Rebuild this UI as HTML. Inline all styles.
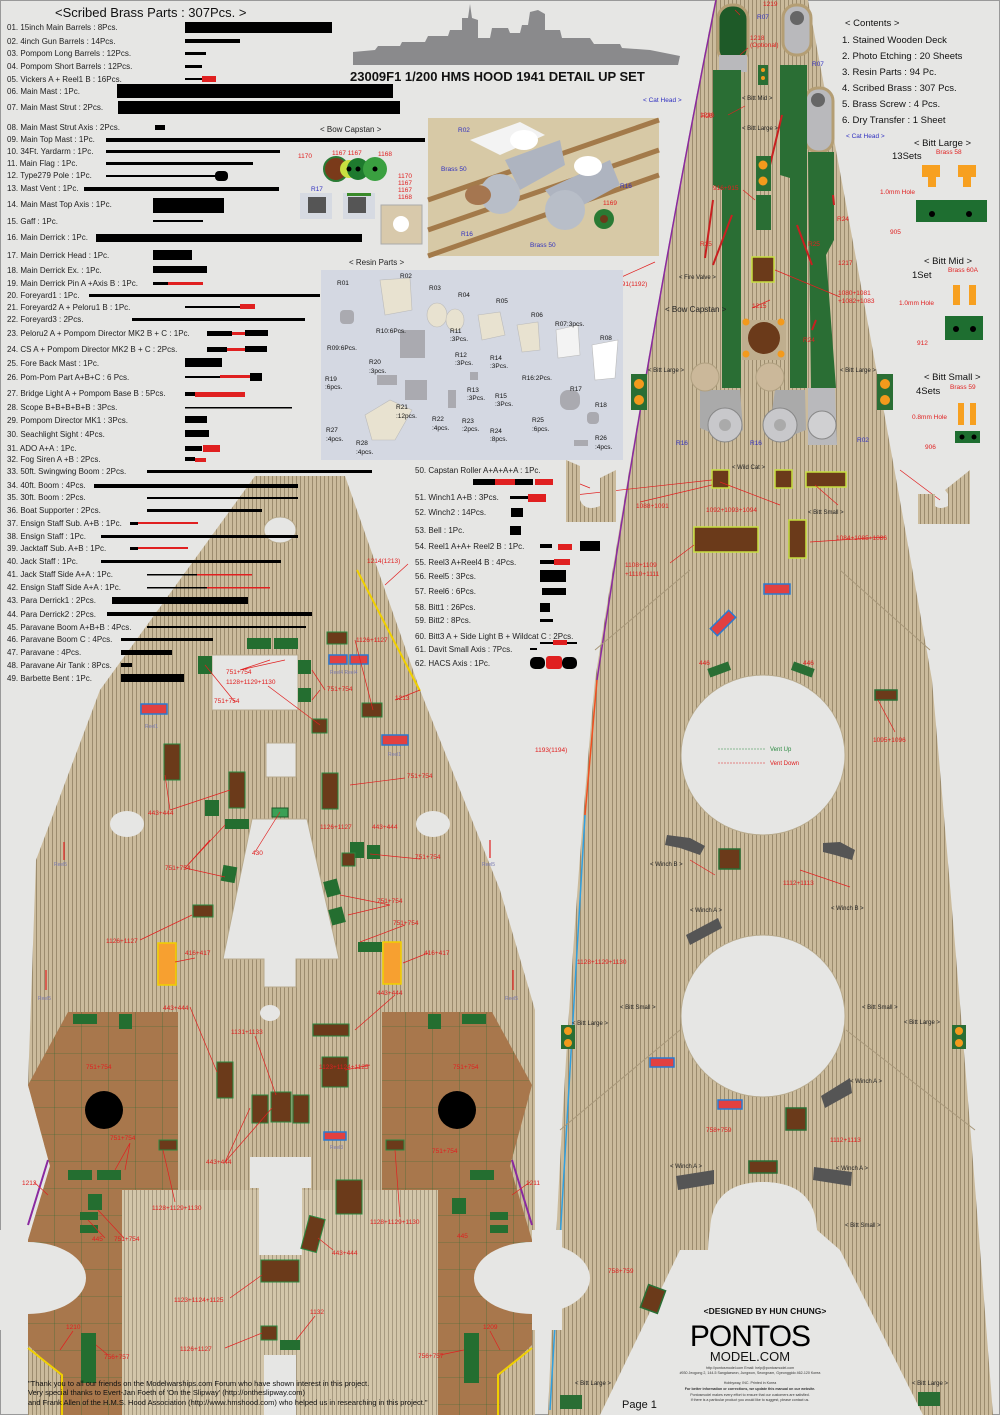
<!DOCTYPE html>
<html><head><meta charset="utf-8">
<style>
html,body{margin:0;padding:0;background:#e6e6e4;}
svg{display:block;font-family:"Liberation Sans",sans-serif;}
.t{font-size:8px;fill:#222;}
.r{font-size:6.5px;fill:#e02020;}
.b{font-size:6.5px;fill:#3030c0;}
.k{font-size:6px;fill:#222;}
</style></head><body>
<svg width="1000" height="1415" viewBox="0 0 1000 1415" xmlns="http://www.w3.org/2000/svg">
<defs>
<pattern id="wood" width="4" height="10" patternUnits="userSpaceOnUse">
<rect width="4" height="10" fill="#cbbb9c"/><rect width="1" height="10" fill="#9c8c6e"/>
</pattern>
<pattern id="wood2" width="4" height="10" patternUnits="userSpaceOnUse">
<rect width="4" height="10" fill="#d3c6aa"/><rect width="1" height="10" fill="#a79a80"/>
</pattern>
<pattern id="grid" width="27" height="27" patternUnits="userSpaceOnUse">
<rect width="27" height="27" fill="#a8774c"/><path d="M0 0H27M0 0V27" stroke="#2f6a35" stroke-width="0.6"/>
</pattern>
</defs>
<rect width="1000" height="1415" fill="#e6e6e4"/>
<rect x="0.5" y="0.5" width="999" height="1414" fill="none" stroke="#999"/>

<!-- ================= RIGHT DECK ================= -->
<path d="M715 0 L808 0 Q870 330 932 680 Q965 1050 993 1415 L548 1415 Q565 1000 595 680 Q650 330 715 0Z" fill="url(#wood)"/>
<path d="M716 0 Q650 330 597 680" stroke="#8a2aa0" stroke-width="1.5" fill="none"/>
<path d="M597 680 L585 815" stroke="#f05020" stroke-width="1.5"/>
<path d="M585 815 L550 1410" stroke="#30a0e0" stroke-width="1.5"/>
<ellipse cx="763" cy="755" rx="82" ry="80" fill="#e6e6e4" stroke="#b8aa8c"/>
<ellipse cx="763" cy="1016" rx="82" ry="81" fill="#e6e6e4" stroke="#b8aa8c"/>
<path d="M710 1250 L710 1230 Q712 1182 763 1182 Q815 1182 817 1230 L840 1250 L923 1415 L600 1415 L680 1250Z" fill="#e6e6e4"/>
<path d="M708 1250 Q710 1182 763 1182 Q817 1182 819 1250" fill="#e6e6e4"/>
<path d="M690 570 L595 650 M840 570 L930 650 M680 1030 L560 1130 M846 1030 L975 1130" stroke="#a8987a" stroke-width="1"/>
<rect x="718" y="5" width="30" height="58" rx="14" fill="#1e5a28" stroke="#b49e74" stroke-width="3"/>
<rect x="783" y="5" width="28" height="50" rx="13" fill="#b9b9bc" stroke="#b49e74" stroke-width="3"/>
<circle cx="797" cy="18" r="7" fill="#666"/>
<rect x="805" y="88" width="28" height="64" rx="13" fill="#b9b9bc" stroke="#b49e74" stroke-width="3"/>
<circle cx="818" cy="100" r="7" fill="#666"/>
<rect x="719" y="55" width="28" height="17" fill="#b9b9bc"/>
<path d="M713 70 L741 70 L741 388 L722 388 L722 190 L713 185Z" fill="#2a6e34"/>
<path d="M780 65 L807 65 L807 388 L790 388 L790 178 L780 175Z" fill="#2a6e34"/>
<path d="M808 152 L834 152 L834 240 L826 255 L836 388 L811 388Z" fill="#2a6e34"/>
<path d="M713 200 L705 258 M782 115 L770 165 M732 215 L713 265 M797 225 L812 265 M833 195 L834 205 M816 320 L812 330" stroke="#c82020" stroke-width="2"/>
<path d="M700 390 L740 390 L743 430 L728 440 L700 428Z" fill="#aaa"/>
<path d="M775 390 L805 390 L806 430 L780 440 L770 425Z" fill="#aaa"/>
<path d="M808 388 L835 388 L837 445 L808 445Z" fill="#b9b9bc"/>
<circle cx="725" cy="425" r="17" fill="#c8c8cb" stroke="#888"/><circle cx="725" cy="425" r="6" fill="#aaa"/>
<circle cx="780" cy="425" r="17" fill="#c8c8cb" stroke="#888"/><circle cx="780" cy="425" r="6" fill="#aaa"/>
<circle cx="822" cy="425" r="14" fill="#d0d0d2" stroke="#888"/>
<circle cx="705" cy="377" r="14" fill="#cbb89a" stroke="#b0a080"/>
<circle cx="770" cy="377" r="14" fill="#cbb89a" stroke="#b0a080"/>
<rect x="758" y="65" width="10" height="20" fill="#2a6e34"/><circle cx="763" cy="70" r="2" fill="#f39a1c"/><circle cx="763" cy="78" r="2" fill="#f39a1c"/>
<rect x="756" y="156" width="15" height="35" fill="#2a6e34"/><circle cx="763" cy="165" r="4.5" fill="#f39a1c"/><circle cx="763" cy="181" r="4.5" fill="#f39a1c"/>
<rect x="756" y="195" width="15" height="35" fill="#2a6e34"/>
<rect x="752" y="257" width="22" height="25" fill="#6b3a1a" stroke="#c8e040" stroke-width="1.5"/>
<rect x="742" y="320" width="44" height="40" fill="#bfae8e"/>
<circle cx="764" cy="338" r="16" fill="#6b3a1a"/>
<circle cx="746" cy="322" r="3.5" fill="#f39a1c"/><circle cx="781" cy="322" r="3.5" fill="#f39a1c"/><circle cx="746" cy="354" r="3.5" fill="#f39a1c"/><circle cx="781" cy="354" r="3.5" fill="#f39a1c"/>
<rect x="631" y="374" width="16" height="36" fill="#2a6e34"/><circle cx="639" cy="384" r="5" fill="#f39a1c"/><circle cx="639" cy="400" r="5" fill="#f39a1c"/>
<rect x="877" y="374" width="16" height="36" fill="#2a6e34"/><circle cx="885" cy="384" r="5" fill="#f39a1c"/><circle cx="885" cy="400" r="5" fill="#f39a1c"/>
<g fill="#6b3a1a" stroke="#c8e040" stroke-width="1.5">
<rect x="712" y="470" width="17" height="18"/><rect x="775" y="470" width="17" height="18"/><rect x="806" y="472" width="40" height="15"/>
<rect x="694" y="527" width="64" height="25"/><rect x="789" y="520" width="17" height="38"/>
</g>
<g fill="#6b3a1a" stroke="#2a6e34" stroke-width="1.5">
<rect x="719" y="849" width="21" height="20"/><rect x="786" y="1108" width="20" height="22"/><rect x="749" y="1161" width="28" height="12"/>
<rect x="875" y="690" width="22" height="10"/><rect x="644" y="1287" width="18" height="24" transform="rotate(20 653 1299)"/>
</g>
<g fill="#555"><path d="M667 835 L690 838 L705 846 L700 855 L680 848 L665 845Z"/><path d="M823 843 L840 842 L855 850 L852 860 L835 855 L823 852Z"/>
<path d="M686 935 L718 918 L722 928 L690 945Z"/><path d="M821 1096 L850 1078 L852 1093 L825 1108Z"/><path d="M676 1176 L714 1170 L714 1184 L678 1190Z"/><path d="M814 1167 L852 1172 L851 1186 L813 1180Z"/></g>
<g fill="#2a6e34"><rect x="708" y="665" width="22" height="9" transform="rotate(-20 719 669)"/><rect x="792" y="665" width="22" height="9" transform="rotate(20 803 669)"/>
<rect x="561" y="1025" width="14" height="24"/><rect x="952" y="1025" width="14" height="24"/><rect x="560" y="1395" width="22" height="14"/><rect x="918" y="1392" width="22" height="14"/></g>
<g fill="#f39a1c"><circle cx="568" cy="1031" r="4"/><circle cx="568" cy="1043" r="4"/><circle cx="959" cy="1031" r="4"/><circle cx="959" cy="1043" r="4"/></g>
<g fill="#e24040" stroke="#2a7ad0" stroke-width="1.5"><rect x="764" y="584" width="26" height="10"/><rect x="710" y="618" width="26" height="10" transform="rotate(-45 723 623)"/><rect x="650" y="1058" width="24" height="9"/><rect x="718" y="1100" width="24" height="9"/></g>
<g class="r"><text x="763" y="6">1219</text><text x="750" y="40">1218</text><text x="750" y="47">(Optional)</text><text x="700" y="117">1216</text><text x="713" y="190">916+915</text><text x="700" y="246">R25</text><text x="808" y="246">R25</text><text x="837" y="221">R24</text><text x="838" y="265">1217</text><text x="838" y="295">1080+1081</text><text x="838" y="303">+1082+1083</text><text x="752" y="308">1215</text><text x="803" y="342">R24</text>
<text x="615" y="286">1191(1192)</text><text x="636" y="508">1088+1091</text><text x="706" y="512">1092+1093+1094</text><text x="836" y="540">1084+1085+1086</text><text x="625" y="567">1108+1109</text><text x="625" y="576">+1110+1111</text><text x="873" y="742">1095+1096</text><text x="535" y="752">1193(1194)</text><text x="783" y="885">1112+1113</text><text x="577" y="964">1128+1129+1130</text><text x="706" y="1132">758+759</text><text x="830" y="1142">1112+1113</text><text x="608" y="1273">758+759</text><text x="493" y="1276">1195(1196)</text>
<text x="701" y="118">R25</text><text x="699" y="665">446</text><text x="803" y="665">446</text></g>
<g class="b"><text x="757" y="19">R07</text><text x="812" y="66">R07</text><text x="643" y="102">&lt; Cat Head &gt;</text><text x="846" y="138">&lt; Cat Head &gt;</text><text x="676" y="445">R16</text><text x="750" y="445">R16</text><text x="857" y="442">R02</text></g>
<g class="k"><text x="742" y="100">&lt; Bitt Mid &gt;</text><text x="742" y="130">&lt; Bitt Large &gt;</text><text x="679" y="279">&lt; Fire Valve &gt;</text><text x="648" y="372">&lt; Bitt Large &gt;</text><text x="840" y="372">&lt; Bitt Large &gt;</text><text x="732" y="469">&lt; Wild Cat &gt;</text><text x="808" y="514">&lt; Bitt Small &gt;</text>
<text x="650" y="866">&lt; Winch B &gt;</text><text x="690" y="912">&lt; Winch A &gt;</text><text x="831" y="910">&lt; Winch B &gt;</text><text x="620" y="1009">&lt; Bitt Small &gt;</text><text x="862" y="1009">&lt; Bitt Small &gt;</text><text x="572" y="1025">&lt; Bitt Large &gt;</text><text x="904" y="1024">&lt; Bitt Large &gt;</text><text x="850" y="1083">&lt; Winch A &gt;</text><text x="670" y="1168">&lt; Winch A &gt;</text><text x="836" y="1170">&lt; Winch A &gt;</text><text x="845" y="1227">&lt; Bitt Small &gt;</text><text x="575" y="1385">&lt; Bitt Large &gt;</text><text x="912" y="1385">&lt; Bitt Large &gt;</text></g>
<text x="665" y="312" font-size="8" fill="#222">&lt; Bow Capstan &gt;</text>
<text x="770" y="751" font-size="6" fill="#2a8a40">Vent Up</text><text x="770" y="765" font-size="6" fill="#e02020">Vent Down</text>
<path d="M718 749H765" stroke="#2a8a40" stroke-dasharray="2 1" stroke-width=".6"/><path d="M718 763H765" stroke="#e02020" stroke-dasharray="2 1" stroke-width=".6"/>
<g stroke="#e02020" stroke-width=".7" fill="none"><path d="M735 10L740 15M748 48L740 55M728 115L745 106M743 190L755 200M840 297L775 270M615 280L655 262M770 300L752 308M575 495L712 480M640 502L712 485M780 505L720 482M885 537L810 542M670 563L694 545M620 370L590 395M838 505L815 485M895 732L878 700M715 875L690 860M850 887L800 870M900 470L940 500M590 488L570 480"/></g>
<text x="765" y="1314" text-anchor="middle" font-size="8.5" font-weight="bold" fill="#111">&lt;DESIGNED BY HUN CHUNG&gt;</text>
<text x="750" y="1346" text-anchor="middle" font-size="30" fill="#000" letter-spacing="-1">PONTOS</text>
<text x="750" y="1361" text-anchor="middle" font-size="13" fill="#111">MODEL.COM</text>
<g font-size="3.6" fill="#333" text-anchor="middle"><text x="750" y="1369">http://pontosmodel.com  Email: help@pontosmodel.com</text><text x="750" y="1374">#930 Jeogong 2, 144-5 Sangdaewon, Jungwon, Seongnam, Gyeonggido 462-120 Korea</text><text x="750" y="1384">Hobbyway, INC.  Printed in Korea</text><text x="750" y="1390" font-weight="bold">For better information or corrections, we update this manual on our website.</text><text x="750" y="1396">Pontosmodel makes every effort to ensure that our customers are satisfied.</text><text x="750" y="1401">If there is a particular product you would like to suggest, please contact us.</text></g>
<text x="622" y="1408" font-size="11" fill="#111">Page 1</text>

<!-- ================= LEFT DECK ================= -->
<path d="M255 476 L345 476 L420 690 L500 890 L535 1010 L535 1415 L28 1415 L28 1240 L50 1166 L28 1085 L36 860 L100 690 Z" fill="url(#wood)"/>
<path d="M110 1190 L452 1190 L452 1415 L110 1415Z" fill="url(#wood2)"/>
<path d="M28 1085 L68 1012 L178 1012 L178 1190 L122 1190 L122 1415 L60 1415 L60 1375 L28 1345 L28 1240 L50 1166Z" fill="url(#grid)"/>
<path d="M532 1085 L492 1012 L382 1012 L382 1190 L438 1190 L438 1415 L500 1415 L500 1375 L532 1345 L532 1240 L510 1166Z" fill="url(#grid)"/>
<ellipse cx="28" cy="1278" rx="58" ry="36" fill="#e6e6e4"/>
<ellipse cx="532" cy="1278" rx="58" ry="36" fill="#e6e6e4"/>
<rect x="0" y="1230" width="28" height="100" fill="#e6e6e4"/><rect x="532" y="1230" width="30" height="100" fill="#e6e6e4"/>
<circle cx="104" cy="1110" r="19" fill="#000"/><circle cx="457" cy="1110" r="19" fill="#000"/>
<path d="M48 1160 L28 1225 M512 1160 L532 1225" stroke="#8a2aa0" stroke-width="2"/>
<path d="M28 1348 L62 1375 L62 1415 M532 1348 L498 1375 L498 1415" stroke="#f0d000" stroke-width="2" fill="none"/>
<path d="M357 570 L420 691" stroke="#f0d000" stroke-width="2"/>
<ellipse cx="280" cy="530" rx="16" ry="13" fill="#e6e6e4" stroke="#b8aa8c"/>
<rect x="212" y="655" width="86" height="55" fill="#e6e6e4" stroke="#b8aa8c"/>
<rect x="266" y="743" width="30" height="34" fill="#e6e6e4" stroke="#b8aa8c"/>
<ellipse cx="127" cy="824" rx="17" ry="13" fill="#e6e6e4"/><ellipse cx="433" cy="824" rx="17" ry="13" fill="#e6e6e4"/>
<path d="M252 819 L307 819 L339 959 L296 959 L296 987 L264 987 L264 959 L223 959Z" fill="#e6e6e4" stroke="#b8aa8c"/>
<ellipse cx="270" cy="1013" rx="10" ry="8" fill="#e6e6e4"/>
<path d="M250 1157 L311 1157 L311 1188 L302 1188 L302 1255 L259 1255 L259 1188 L250 1188Z" fill="#e6e6e4"/>
<rect x="264" y="1355" width="32" height="60" fill="#e6e6e4"/>
<g fill="#246e30"><rect x="247" y="638" width="24" height="11"/><rect x="274" y="638" width="24" height="11"/><rect x="198" y="656" width="14" height="18"/><rect x="298" y="660" width="13" height="14"/><rect x="298" y="688" width="13" height="14"/>
<rect x="205" y="800" width="14" height="16"/><rect x="225" y="819" width="24" height="10"/><rect x="222" y="866" width="14" height="16" transform="rotate(10 229 874)"/><rect x="350" y="842" width="14" height="16"/><rect x="325" y="880" width="14" height="16" transform="rotate(-15 332 888)"/><rect x="330" y="908" width="14" height="16" transform="rotate(-15 337 916)"/>
<rect x="358" y="942" width="24" height="10"/><rect x="367" y="845" width="13" height="14"/>
<rect x="73" y="1014" width="24" height="10"/><rect x="119" y="1014" width="13" height="15"/><rect x="68" y="1170" width="24" height="10"/><rect x="97" y="1170" width="24" height="10"/><rect x="88" y="1194" width="14" height="16"/><rect x="81" y="1333" width="15" height="50"/>
<rect x="428" y="1014" width="13" height="15"/><rect x="462" y="1014" width="24" height="10"/><rect x="470" y="1170" width="24" height="10"/><rect x="452" y="1198" width="14" height="16"/><rect x="464" y="1333" width="15" height="50"/>
<rect x="80" y="1212" width="18" height="8"/><rect x="80" y="1225" width="18" height="8"/><rect x="490" y="1212" width="18" height="8"/><rect x="490" y="1225" width="18" height="8"/><rect x="280" y="1340" width="20" height="10"/></g>
<g fill="#6b3a1a" stroke="#2a8a40" stroke-width="1"><rect x="327" y="632" width="20" height="12"/><rect x="362" y="703" width="20" height="14"/><rect x="312" y="719" width="15" height="14"/><rect x="164" y="744" width="16" height="36"/><rect x="229" y="772" width="16" height="36"/><rect x="322" y="773" width="16" height="36"/><rect x="342" y="853" width="13" height="13"/><rect x="193" y="905" width="20" height="12"/>
<rect x="313" y="1024" width="36" height="12"/><rect x="217" y="1062" width="16" height="36"/><rect x="252" y="1095" width="16" height="28"/><rect x="271" y="1092" width="20" height="30"/><rect x="293" y="1095" width="16" height="28"/><rect x="322" y="1057" width="26" height="30"/><rect x="159" y="1140" width="18" height="10"/><rect x="336" y="1180" width="26" height="34"/><rect x="305" y="1217" width="16" height="34" transform="rotate(15 313 1234)"/><rect x="261" y="1260" width="38" height="22"/><rect x="261" y="1326" width="16" height="14"/><rect x="386" y="1140" width="18" height="10"/></g>
<g fill="#e24040" stroke="#2a7ad0" stroke-width="1.5"><rect x="141" y="704" width="26" height="10"/><rect x="329" y="655" width="18" height="9"/><rect x="350" y="655" width="18" height="9"/><rect x="382" y="735" width="26" height="10"/><rect x="324" y="1132" width="22" height="8"/></g>
<g fill="#f7a030" stroke="#f0d000" stroke-width="1.5"><rect x="158" y="943" width="18" height="42"/><rect x="383" y="942" width="18" height="42"/></g>
<rect x="272" y="808" width="16" height="9" fill="#3aa055" stroke="#1e5a28"/>
<g stroke="#e02020" stroke-width="1.2"><path d="M64 842V860M46 970V990M513 970V990M490 840V858"/></g>
<g class="r"><text x="367" y="563">1214(1213)</text><text x="356" y="642">1126+1127</text><text x="226" y="674">751+754</text><text x="226" y="684">1128+1129+1130</text><text x="214" y="703">751+754</text><text x="327" y="691">751+754</text><text x="395" y="700">1213</text><text x="407" y="778">751+754</text><text x="148" y="815">443+444</text><text x="320" y="829">1126+1127</text><text x="372" y="829">443+444</text><text x="252" y="855">430</text><text x="165" y="870">751+754</text><text x="415" y="859">751+754</text><text x="377" y="903">751+754</text><text x="393" y="925">751+754</text><text x="106" y="943">1126+1127</text><text x="185" y="955">416+417</text><text x="424" y="955">416+417</text><text x="377" y="995">443+444</text><text x="163" y="1010">443+444</text><text x="231" y="1034">1131+1133</text><text x="86" y="1069">751+754</text><text x="453" y="1069">751+754</text><text x="319" y="1069">1123+1124+1125</text><text x="110" y="1140">751+754</text><text x="432" y="1153">751+754</text><text x="206" y="1164">443+444</text><text x="22" y="1185">1212</text><text x="526" y="1185">1211</text><text x="152" y="1210">1128+1129+1130</text><text x="370" y="1224">1128+1129+1130</text><text x="92" y="1241">445</text><text x="114" y="1241">751+754</text><text x="457" y="1238">445</text><text x="332" y="1255">443+444</text><text x="174" y="1302">1123+1124+1125</text><text x="310" y="1314">1132</text><text x="66" y="1329">1210</text><text x="483" y="1329">1209</text><text x="180" y="1351">1126+1127</text><text x="104" y="1359">756+757</text><text x="418" y="1358">756+757</text></g>
<g font-size="5" fill="#7a7ab0"><text x="145" y="728">Reel1</text><text x="388" y="756">Reel1</text><text x="330" y="674">Reel4 Reel4</text><text x="54" y="866">Reel5</text><text x="482" y="866">Reel5</text><text x="38" y="1000">Reel5</text><text x="505" y="1000">Reel5</text><text x="330" y="1149">Reel3</text></g>
<g stroke="#e02020" stroke-width=".7" fill="none"><path d="M408 564L385 585M355 640L373 710M240 670L270 660M240 670L285 660M235 702L205 665M325 690L312 670M320 690L312 700M268 686L320 725M395 700L420 690M405 778L350 785M170 810L165 775M170 810L230 790M255 852L280 812M185 868L225 825M185 868L210 840M185 868L225 877M420 859L370 854M390 905L340 895M390 905L348 915M405 925L360 942M140 940L192 915M195 958L175 962M428 953L403 963M395 995L355 1030M190 1007L217 1072M255 1036L276 1095M370 1065L345 1070M130 1143L115 1170M130 1143L125 1170M225 1162L250 1108M225 1162L272 1108M34 1182L48 1195M530 1182L512 1195M175 1202L163 1150M400 1217L395 1150M105 1238L88 1220M124 1238L98 1210M333 1250L318 1238M230 1298L262 1275M315 1316L296 1340M73 1331L60 1350M490 1331L500 1350M225 1348L262 1333M108 1355L96 1345M440 1355L464 1350"/></g>
<g font-size="7.5" fill="#111"><text x="28" y="1386">"Thank you to all our friends on the Modelwarships.com Forum who have shown interest in this project.</text><text x="28" y="1395">Very special thanks to Evert-Jan Foeth of 'On the Slipway' (http://ontheslipway.com)</text><text x="28" y="1405">and Frank Allen of the H.M.S. Hood Association (http://www.hmshood.com) who helped us in researching in this project."</text></g>

<!-- ================= TOP CENTRE ================= -->
<path d="M353 65 L353 52 L375 50 L378 46 L400 46 L402 42 L425 42 L428 36 L448 36 L450 30 L462 30 L462 18 L468 18 L470 4 L472 18 L478 20 L478 38 L490 38 L492 28 L508 28 L510 33 L520 33 L522 25 L528 25 L530 12 L538 10 L545 14 L545 30 L560 30 L562 38 L590 38 L594 44 L620 44 L622 48 L650 50 L680 56 L678 65Z" fill="#8a8a8c"/>
<text x="350" y="81" font-size="13" font-weight="bold" fill="#111">23009F1  1/200 HMS HOOD 1941 DETAIL UP SET</text>
<rect x="428" y="118" width="231" height="138" fill="#d7c9a6"/>
<path d="M428 200 L659 120 M428 230 L659 150 M428 256 L659 175" stroke="#a37a4a" stroke-width="5"/>
<path d="M470 140 L520 122 L545 135 L500 155Z" fill="#f3f3f3"/>
<path d="M505 160 L560 140 L565 165 L520 190Z" fill="#aeb4c0"/><path d="M545 190 L610 160 L620 185 L565 215Z" fill="#aeb4c0"/>
<ellipse cx="524" cy="140" rx="14" ry="10" fill="#fff"/><ellipse cx="588" cy="166" rx="14" ry="10" fill="#fff"/>
<ellipse cx="500" cy="194" rx="20" ry="20" fill="#b8bec8"/><ellipse cx="565" cy="210" rx="20" ry="20" fill="#b8bec8"/>
<ellipse cx="478" cy="195" rx="13" ry="10" fill="#a57650"/>
<circle cx="604" cy="219" r="10" fill="#2a7a34"/><circle cx="604" cy="219" r="4" fill="#6b3a1a"/>
<text x="458" y="132" class="b">R02</text><text x="441" y="171" class="b">Brass 50</text><text x="620" y="188" class="b">R16</text><text x="461" y="236" class="b">R16</text><text x="530" y="247" class="b">Brass 50</text><text x="603" y="205" class="r">1169</text>
<text x="320" y="132" font-size="8" fill="#222">&lt; Bow Capstan &gt;</text>
<g class="r"><text x="298" y="158">1170</text><text x="332" y="155">1167 1167</text><text x="378" y="156">1168</text><text x="398" y="178">1170</text><text x="398" y="185">1167</text><text x="398" y="192">1167</text><text x="398" y="199">1168</text></g>
<circle cx="336" cy="169" r="12" fill="#7a3a1a" stroke="#2a7a34" stroke-width="2"/><circle cx="349" cy="169" r="9" fill="#c8e040"/><circle cx="358" cy="169" r="11" fill="#1e7a2e"/><circle cx="375" cy="169" r="12" fill="#3aa040"/>
<circle cx="349" cy="169" r="2.5" fill="#000"/><circle cx="358" cy="169" r="2.5" fill="#000"/><circle cx="375" cy="169" r="2.5" fill="#000"/>
<text x="311" y="191" class="b">R17</text>
<rect x="300" y="193" width="32" height="26" fill="#d6dae2"/><rect x="308" y="197" width="18" height="16" fill="#555"/>
<rect x="343" y="193" width="32" height="26" fill="#d6dae2"/><rect x="348" y="197" width="18" height="16" fill="#555"/><rect x="347" y="193" width="24" height="3" fill="#3a8a2a"/>
<rect x="381" y="205" width="41" height="39" fill="#d8c9ab" stroke="#aaa"/><circle cx="401" cy="224" r="8" fill="#fff"/>
<text x="349" y="265" font-size="8" fill="#222">&lt; Resin Parts &gt;</text>
<rect x="321" y="270" width="302" height="190" fill="#d4d8e2"/>
<g fill="#e8e2d0" stroke="#bbb" stroke-width=".6">
<path d="M380 280 L410 278 L412 310 L385 315Z"/><ellipse cx="437" cy="315" rx="10" ry="12"/><ellipse cx="455" cy="320" rx="9" ry="11"/><path d="M478 315 L500 312 L505 335 L482 340Z"/><path d="M517 325 L538 322 L540 350 L522 352Z"/>
<path d="M556 330 L578 325 L580 355 L558 358Z" fill="#f3f3f3"/><path d="M592 345 L618 340 L615 378 L595 380Z" fill="#fff"/><path d="M365 415 L390 400 L412 410 L395 440 L372 440Z"/></g>
<g fill="#aaaab0"><rect x="340" y="310" width="14" height="14" rx="4"/><rect x="400" y="330" width="25" height="28"/><rect x="405" y="380" width="22" height="20"/><rect x="448" y="390" width="8" height="18"/><rect x="560" y="390" width="20" height="20" rx="8"/><rect x="587" y="412" width="12" height="12" rx="4"/><rect x="574" y="440" width="14" height="6"/><rect x="377" y="375" width="20" height="10"/><rect x="470" y="372" width="8" height="8"/></g>
<g font-size="6.5" fill="#111"><text x="337" y="285">R01</text><text x="400" y="278">R02</text><text x="429" y="290">R03</text><text x="458" y="297">R04</text><text x="496" y="303">R05</text><text x="531" y="317">R06</text><text x="555" y="326">R07:3pcs.</text><text x="600" y="340">R08</text><text x="327" y="350">R09:6Pcs.</text><text x="376" y="333">R10:6Pcs.</text><text x="450" y="333">R11</text><text x="450" y="341">:3Pcs.</text><text x="455" y="357">R12</text><text x="455" y="365">:3Pcs.</text><text x="490" y="360">R14</text><text x="490" y="368">:3Pcs.</text><text x="369" y="364">R20</text><text x="369" y="373">:3pcs.</text><text x="325" y="381">R19</text><text x="325" y="389">:6pcs.</text><text x="467" y="392">R13</text><text x="467" y="400">:3Pcs.</text><text x="495" y="398">R15</text><text x="495" y="406">:3Pcs.</text><text x="522" y="380">R16:2Pcs.</text><text x="570" y="391">R17</text><text x="595" y="407">R18</text><text x="396" y="409">R21</text><text x="396" y="418">:12pcs.</text><text x="432" y="421">R22</text><text x="432" y="430">:4pcs.</text><text x="462" y="423">R23</text><text x="462" y="431">:2pcs.</text><text x="490" y="433">R24</text><text x="490" y="441">:8pcs.</text><text x="532" y="422">R25</text><text x="532" y="431">:6pcs.</text><text x="595" y="440">R26</text><text x="595" y="449">:4pcs.</text><text x="326" y="432">R27</text><text x="326" y="441">:4pcs.</text><text x="356" y="445">R28</text><text x="356" y="454">:4pcs.</text></g>

<!-- ================= CONTENTS ================= -->
<g font-size="9.5" fill="#111"><text x="845" y="26">&lt; Contents &gt;</text><text x="842" y="43">1. Stained Wooden Deck</text><text x="842" y="59">2. Photo Etching : 20 Sheets</text><text x="842" y="75">3. Resin Parts : 94 Pc.</text><text x="842" y="91">4. Scribed Brass : 307 Pcs.</text><text x="842" y="107">5. Brass Screw : 4 Pcs.</text><text x="842" y="123">6. Dry Transfer : 1 Sheet</text>
<text x="914" y="146">&lt; Bitt Large &gt;</text><text x="892" y="159">13Sets</text><text x="924" y="264">&lt; Bitt Mid &gt;</text><text x="912" y="278">1Set</text><text x="924" y="380">&lt; Bitt Small &gt;</text><text x="916" y="394">4Sets</text></g>
<g class="r"><text x="936" y="154">Brass 58</text><text x="880" y="194">1.0mm Hole</text><text x="890" y="234">905</text><text x="948" y="272">Brass 60A</text><text x="899" y="305">1.0mm Hole</text><text x="917" y="345">912</text><text x="950" y="389">Brass 59</text><text x="912" y="419">0.8mm Hole</text><text x="925" y="449">906</text></g>
<rect x="916" y="200" width="71" height="22" fill="#1e6e30"/><circle cx="932" cy="214" r="3" fill="#000"/><circle cx="969" cy="214" r="3" fill="#000"/>
<path d="M922 165H940V177H936V187H928V177H922Z M958 165H976V177H971V187H963V177H958Z" fill="#f7a020"/>
<rect x="945" y="316" width="38" height="24" fill="#1e6e30"/><circle cx="956" cy="329" r="3" fill="#000"/><circle cx="973" cy="329" r="3" fill="#000"/>
<path d="M953 285H960V305H953Z M969 285H976V305H969Z" fill="#f7a020"/>
<rect x="955" y="431" width="25" height="12" fill="#1e6e30"/><circle cx="962" cy="437" r="2.5" fill="#000"/><circle cx="974" cy="437" r="2.5" fill="#000"/>
<path d="M958 403H964V425H958Z M970 403H976V425H970Z" fill="#f7a020"/>
<path d="M918 470 L918 494 L935 494 L935 506 Q940 510 948 506 L948 494 L945 490 L970 470 L970 524 L918 524Z" fill="url(#wood)"/>
<path d="M566 460 L566 522 L616 522 L616 470 L600 478 L600 506 Q585 512 580 500 L580 466Z" fill="url(#wood)"/>

<!-- ================= PARTS LIST ================= -->
<text x="55" y="17" font-size="13" fill="#111">&lt;Scribed Brass Parts : 307Pcs. &gt;</text>
<g class="t">
<text x="7" y="30">01. 15inch Main Barrels : 8Pcs.</text><text x="7" y="44">02. 4inch Gun Barrels : 14Pcs.</text><text x="7" y="56">03. Pompom Long Barrels : 12Pcs.</text><text x="7" y="69">04. Pompom Short Barrels : 12Pcs.</text><text x="7" y="82">05. Vickers  A + Reel1 B :  16Pcs.</text><text x="7" y="94">06. Main Mast : 1Pc.</text><text x="7" y="110">07. Main Mast Strut : 2Pcs.</text><text x="7" y="130">08. Main Mast Strut Axis : 2Pcs.</text><text x="7" y="142">09. Main Top Mast : 1Pc.</text><text x="7" y="154">10. 34Ft. Yardarm  :  1Pc.</text><text x="7" y="166">11. Main Flag : 1Pc.</text><text x="7" y="178">12. Type279 Pole  :  1Pc.</text><text x="7" y="191">13. Mast Vent : 1Pc.</text><text x="7" y="207">14. Main Mast  Top Axis : 1Pc.</text><text x="7" y="224">15. Gaff   :  1Pc.</text><text x="7" y="240">16. Main Derrick : 1Pc.</text><text x="7" y="258">17. Main Derrick Head : 1Pc.</text><text x="7" y="273">18. Main Derrick Ex. : 1Pc.</text><text x="7" y="286">19. Main Derrick Pin A +Axis B : 1Pc.</text><text x="7" y="298">20. Foreyard1 : 1Pc.</text><text x="7" y="310">21. Foreyard2 A + Peloru1 B : 1Pc.</text><text x="7" y="322">22. Foreyard3 : 2Pcs.</text><text x="7" y="336">23. Peloru2 A + Pompom Director MK2 B + C : 1Pc.</text><text x="7" y="352">24. CS A + Pompom Director MK2 B + C : 2Pcs.</text><text x="7" y="366">25. Fore Back Mast : 1Pc.</text><text x="7" y="380">26. Pom-Pom Part A+B+C : 6 Pcs.</text><text x="7" y="396">27. Bridge Light A + Pompom Base B : 5Pcs.</text><text x="7" y="410">28. Scope B+B+B+B+B : 3Pcs.</text><text x="7" y="423">29. Pompom Director MK1 : 3Pcs.</text><text x="7" y="437">30. Seachlight Sight  :  4Pcs.</text><text x="7" y="451">31. ADO A+A : 1Pc.</text><text x="7" y="462">32. Fog Siren A +B  : 2Pcs.</text>
<text x="7" y="474">33. 50ft. Swingwing Boom : 2Pcs.</text><text x="7" y="488">34. 40ft. Boom : 4Pcs.</text><text x="7" y="500">35. 30ft. Boom : 2Pcs.</text><text x="7" y="513">36. Boat Supporter : 2Pcs.</text><text x="7" y="526">37. Ensign Staff Sub. A+B : 1Pc.</text><text x="7" y="539">38. Ensign Staff : 1Pc.</text><text x="7" y="551">39. Jacktaff Sub. A+B : 1Pc.</text><text x="7" y="564">40. Jack Staff : 1Pc.</text><text x="7" y="577">41. Jack Staff Side A+A : 1Pc.</text><text x="7" y="590">42. Ensign Staff Side A+A : 1Pc.</text><text x="7" y="603">43. Para Derrick1 : 2Pcs.</text><text x="7" y="617">44. Para Derrick2 : 2Pcs.</text><text x="7" y="630">45. Paravane Boom A+B+B : 4Pcs.</text><text x="7" y="642">46. Paravane Boom C : 4Pcs.</text><text x="7" y="655">47. Paravane : 4Pcs.</text><text x="7" y="668">48. Paravane Air Tank : 8Pcs.</text><text x="7" y="681">49. Barbette Bent : 1Pc.</text>
<text x="415" y="473">50. Capstan Roller A+A+A+A : 1Pc.</text><text x="415" y="500">51. Winch1 A+B : 3Pcs.</text><text x="415" y="515">52. Winch2 : 14Pcs.</text><text x="415" y="533">53. Bell  : 1Pc.</text><text x="415" y="549">54. Reel1 A+A+ Reel2 B : 1Pc.</text><text x="415" y="565">55. Reel3 A+Reel4 B : 4Pcs.</text><text x="415" y="579">56. Reel5  : 3Pcs.</text><text x="415" y="594">57. Reel6  : 6Pcs.</text><text x="415" y="610">58. Bitt1 : 26Pcs.</text><text x="415" y="623">59. Bitt2 : 8Pcs.</text><text x="415" y="639">60. Bitt3 A + Side Light B + Wildcat C : 2Pcs.</text><text x="415" y="652">61. Davit Small Axis  : 7Pcs.</text><text x="415" y="666">62. HACS Axis : 1Pc.</text>
</g>
<g fill="#000">
<rect x="185" y="22" width="147" height="11"/><rect x="185" y="39" width="55" height="4"/><rect x="185" y="52" width="21" height="3"/><rect x="185" y="65" width="17" height="3"/><rect x="185" y="78" width="18" height="2"/>
<rect x="117" y="84" width="276" height="14"/><rect x="118" y="101" width="282" height="13"/><rect x="155" y="125" width="10" height="5"/><rect x="106" y="138" width="319" height="4"/><rect x="106" y="150" width="174" height="3"/><rect x="106" y="162" width="147" height="3"/><rect x="106" y="175" width="110" height="2"/><rect x="215" y="171" width="13" height="10" rx="4"/><rect x="84" y="187" width="195" height="4"/>
<rect x="153" y="198" width="71" height="15"/><rect x="153" y="220" width="50" height="2"/><rect x="96" y="234" width="266" height="8"/><rect x="153" y="250" width="39" height="10"/><rect x="153" y="266" width="54" height="7"/><rect x="153" y="282" width="15" height="3"/><rect x="89" y="294" width="231" height="3"/><rect x="185" y="306" width="55" height="2"/><rect x="132" y="318" width="173" height="3"/>
<rect x="207" y="331" width="25" height="5"/><rect x="245" y="330" width="23" height="6"/><rect x="207" y="347" width="20" height="5"/><rect x="245" y="346" width="22" height="6"/><rect x="185" y="358" width="37" height="9"/><rect x="185" y="376" width="35" height="2"/><rect x="250" y="373" width="12" height="8"/><rect x="185" y="392" width="10" height="4"/><rect x="185" y="407" width="107" height="1.5"/><rect x="185" y="416" width="22" height="7"/><rect x="185" y="430" width="24" height="7"/><rect x="185" y="446" width="17" height="5"/><rect x="185" y="457" width="10" height="4"/>
<rect x="147" y="470" width="225" height="3"/><rect x="94" y="484" width="204" height="4"/><rect x="147" y="497" width="151" height="2"/><rect x="147" y="509" width="115" height="3"/><rect x="130" y="522" width="8" height="3"/><rect x="101" y="535" width="197" height="3"/><rect x="130" y="547" width="8" height="3"/><rect x="101" y="560" width="180" height="3"/><rect x="147" y="574" width="50" height="1.5"/><rect x="147" y="587" width="60" height="1.5"/><rect x="112" y="597" width="136" height="7"/><rect x="107" y="612" width="205" height="4"/><rect x="147" y="626" width="159" height="2"/><rect x="121" y="638" width="92" height="3"/><rect x="121" y="650" width="51" height="5"/><rect x="121" y="663" width="11" height="4"/><rect x="121" y="674" width="63" height="8"/>
<rect x="473" y="479" width="22" height="6"/><rect x="515" y="479" width="18" height="6"/><rect x="510" y="496" width="18" height="3"/><rect x="511" y="508" width="12" height="9"/><rect x="510" y="526" width="11" height="9"/><rect x="540" y="544" width="12" height="4"/><rect x="580" y="541" width="20" height="10"/><rect x="540" y="560" width="14" height="4"/><rect x="540" y="570" width="26" height="12"/><rect x="542" y="588" width="24" height="7"/><rect x="540" y="603" width="10" height="9"/><rect x="540" y="619" width="13" height="3"/><rect x="540" y="642" width="37" height="2"/><rect x="530" y="648" width="7" height="2"/><rect x="530" y="657" width="15" height="12" rx="5"/><rect x="562" y="657" width="15" height="12" rx="5"/></g>
<g fill="#e02020"><rect x="202" y="76" width="14" height="6"/><rect x="168" y="282" width="35" height="3"/><rect x="240" y="304" width="15" height="5"/><rect x="232" y="332" width="13" height="3"/><rect x="227" y="348" width="18" height="3"/><rect x="220" y="375" width="30" height="3"/><rect x="195" y="392" width="50" height="5"/><rect x="203" y="445" width="17" height="7"/><rect x="195" y="458" width="11" height="4"/><rect x="138" y="522" width="60" height="2"/><rect x="138" y="547" width="50" height="2"/><rect x="197" y="574" width="55" height="1.5"/><rect x="207" y="587" width="63" height="1.5"/><rect x="495" y="479" width="20" height="6"/><rect x="535" y="479" width="18" height="6"/><rect x="528" y="494" width="18" height="8"/><rect x="558" y="544" width="14" height="6"/><rect x="554" y="559" width="16" height="6"/><rect x="553" y="640" width="14" height="5"/><rect x="546" y="656" width="16" height="13" rx="3"/></g>
</svg>
</body></html>
